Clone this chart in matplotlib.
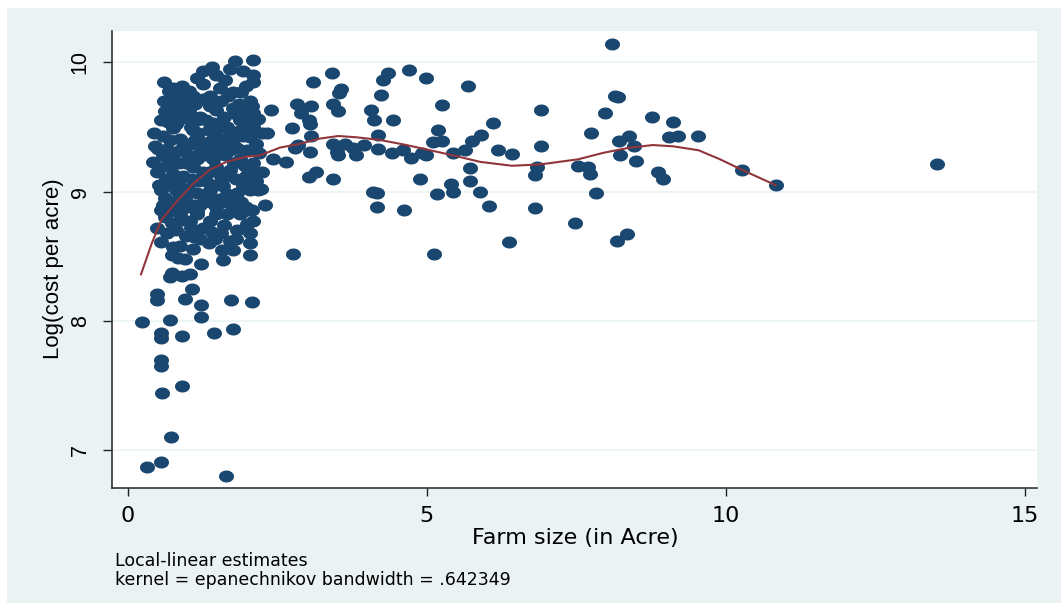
import numpy as np
import matplotlib.pyplot as plt
from matplotlib.path import Path
from matplotlib.patches import Rectangle

# farms above ~2.5 acres (x = farm size, y = log cost per acre)
wide_pts = [
    (3.41, 9.92), (3.10, 9.85), (3.56, 9.79), (3.53, 9.76), (4.35, 9.92), (4.27, 9.86), (4.70, 9.94), (4.99, 9.88),
    (5.69, 9.82), (4.24, 9.75), (2.82, 9.68), (3.06, 9.66), (3.43, 9.68), (3.51, 9.62), (2.90, 9.61), (3.03, 9.55),
    (3.04, 9.52), (4.06, 9.63), (4.11, 9.55), (4.44, 9.55), (5.25, 9.67), (2.75, 9.49), (3.07, 9.43), (4.19, 9.44),
    (5.18, 9.48), (6.11, 9.53), (5.91, 9.44), (5.76, 9.39), (2.85, 9.36), (2.79, 9.34), (3.04, 9.31), (3.43, 9.37),
    (3.63, 9.37), (3.50, 9.31), (3.52, 9.28), (3.82, 9.28), (3.95, 9.36), (3.77, 9.34), (4.18, 9.33), (4.41, 9.30),
    (4.60, 9.32), (4.73, 9.26), (4.91, 9.30), (4.98, 9.28), (5.10, 9.38), (5.26, 9.39), (5.43, 9.30), (5.64, 9.32),
    (6.19, 9.32), (6.42, 9.29), (2.64, 9.23), (3.03, 9.11), (3.14, 9.15), (3.43, 9.10), (4.88, 9.10), (5.72, 9.18),
    (5.72, 9.08), (5.41, 9.06), (5.44, 9.00), (5.89, 9.00), (5.17, 8.98), (4.10, 9.00), (4.17, 8.99), (4.16, 8.88),
    (4.62, 8.86), (6.03, 8.89), (6.81, 8.87), (6.81, 9.13), (6.84, 9.19), (2.76, 8.52), (5.12, 8.52), (6.38, 8.61),
    (8.09, 10.14), (8.14, 9.74), (8.20, 9.73), (6.90, 9.63), (7.97, 9.61), (8.76, 9.58), (9.12, 9.54), (7.75, 9.45),
    (6.90, 9.35), (8.21, 9.39), (8.38, 9.43), (8.46, 9.35), (9.04, 9.42), (9.20, 9.43), (9.53, 9.43), (8.22, 9.28),
    (8.49, 9.24), (7.53, 9.20), (7.70, 9.19), (7.73, 9.14), (8.87, 9.15), (8.94, 9.10), (10.26, 9.17), (10.83, 9.05),
    (7.83, 8.99), (7.48, 8.76), (8.34, 8.67), (8.17, 8.62), (13.53, 9.21),
]

# small farms, low costs
low_pts = [
    (2.04, 8.51), (1.59, 8.47), (1.22, 8.44), (0.73, 8.37), (0.90, 8.35), (1.04, 8.36), (0.70, 8.34), (1.07, 8.25),
    (0.95, 8.17), (0.49, 8.21), (0.49, 8.16), (1.23, 8.12), (1.73, 8.16), (2.07, 8.15), (0.23, 7.99), (0.71, 8.01),
    (1.22, 8.03), (0.56, 7.91), (0.56, 7.87), (0.91, 7.88), (1.44, 7.91), (1.76, 7.94), (0.56, 7.70), (0.56, 7.65),
    (0.91, 7.50), (0.57, 7.44), (0.72, 7.10), (0.32, 6.87), (0.56, 6.91), (1.64, 6.80),
    (0.59, 8.90), (0.55, 8.86), (0.48, 8.72), (0.56, 8.61), (0.73, 8.51), (0.84, 8.49), (0.73, 8.76), (1.04, 8.77),
    (0.98, 8.66), (1.37, 8.77), (1.40, 8.69), (1.57, 8.55), (1.82, 8.70), (1.81, 8.63), (2.04, 8.68), (2.04, 8.60),
    (2.10, 8.77), (2.29, 8.90), (1.20, 8.63), (1.45, 8.63), (0.76, 8.57), (1.09, 8.56), (1.65, 8.83), (1.87, 8.83),
    (1.48, 8.83), (0.87, 8.83), (1.15, 8.83), (1.98, 8.88), (1.37, 8.92),
    (1.05, 8.72), (1.35, 8.60), (1.55, 8.68), (0.95, 8.48), (1.75, 8.55),
]

# the dense block of small farms
cluster_pts = [
    (1.79, 10.01), (2.10, 10.02), (1.26, 9.93), (1.40, 9.96), (1.92, 9.93), (2.10, 9.90), (2.09, 9.85), (0.61, 9.85),
    (0.76, 9.80), (1.26, 9.83), (1.54, 9.80), (1.76, 9.77), (1.90, 9.77), (0.76, 9.71), (0.84, 9.75), (1.09, 9.74),
    (1.37, 9.74), (2.04, 9.70), (2.07, 9.66), (2.40, 9.63), (2.10, 9.61), (0.90, 9.58), (0.67, 9.54), (0.76, 9.49),
    (1.20, 9.58), (1.48, 9.63), (1.76, 9.65), (0.43, 9.45), (0.59, 9.43), (2.10, 9.50), (2.32, 9.45), (0.87, 9.41),
    (1.09, 9.48), (1.43, 9.53), (1.65, 9.50), (1.87, 9.55), (1.93, 9.43), (2.15, 9.37), (0.42, 9.23), (0.54, 9.18),
    (0.65, 9.26), (0.87, 9.32), (1.04, 9.37), (1.20, 9.31), (1.37, 9.35), (1.59, 9.35), (1.76, 9.40), (2.10, 9.22),
    (2.43, 9.25), (1.87, 9.25), (0.76, 9.14), (0.92, 9.12), (1.09, 9.19), (1.26, 9.15), (1.48, 9.19), (1.71, 9.17),
    (1.98, 9.12), (2.15, 9.08), (0.56, 9.01), (0.81, 9.01), (1.15, 8.99), (1.37, 9.01), (1.59, 9.04), (1.82, 8.99),
    (2.04, 9.01), (2.18, 9.01), (0.87, 8.88), (1.15, 8.85), (1.48, 8.88), (1.76, 8.88), (2.07, 8.86),
    (0.72, 9.62), (0.85, 9.66), (0.98, 9.70), (1.12, 9.68), (1.25, 9.72), (1.38, 9.66), (1.55, 9.70), (1.68, 9.74),
    (1.85, 9.68), (1.95, 9.62), (0.70, 9.40), (0.80, 9.52), (0.95, 9.57), (1.05, 9.50), (1.18, 9.45), (1.30, 9.55),
    (1.45, 9.44), (1.60, 9.58), (1.72, 9.47), (1.98, 9.52), (0.66, 9.33), (0.76, 9.28), (0.95, 9.36), (1.13, 9.40),
    (1.27, 9.28), (1.48, 9.30), (1.67, 9.42), (1.82, 9.34), (1.96, 9.20), (2.05, 9.42), (0.64, 9.10), (0.74, 9.05),
    (0.98, 9.22), (1.08, 9.10), (1.30, 9.08), (1.42, 9.25), (1.55, 9.12), (1.62, 9.28), (1.80, 9.10), (1.92, 9.04),
    (0.62, 8.95), (0.72, 8.92), (0.96, 8.95), (1.10, 8.90), (1.28, 8.96), (1.52, 8.94), (1.66, 8.98), (1.90, 8.92),
    (2.12, 9.15), (2.20, 9.30), (0.80, 8.70), (0.92, 8.78), (1.25, 8.72), (1.60, 8.74), (1.70, 8.62), (2.00, 8.75),
    (1.10, 8.65), (0.62, 8.80), (0.65, 8.68), (0.88, 8.58), (0.50, 9.33), (0.52, 9.05), (0.55, 9.55),
    (0.60, 9.70), (0.68, 9.78), (0.90, 9.82), (1.02, 9.78), (1.15, 9.88), (1.48, 9.90), (1.62, 9.86), (1.70, 9.95),
    (1.98, 9.82), (2.00, 9.58), (0.62, 9.62), (0.78, 9.58), (1.02, 9.62), (1.15, 9.55), (1.35, 9.48), (1.55, 9.50),
    (1.80, 9.60), (1.90, 9.48), (2.18, 9.56), (2.25, 9.45), (0.58, 9.28), (0.72, 9.20), (0.85, 9.22), (1.00, 9.28),
    (1.15, 9.25), (1.22, 9.38), (1.40, 9.40), (1.52, 9.38), (1.70, 9.32), (2.00, 9.32), (0.85, 9.05), (1.00, 9.02),
    (1.18, 9.08), (1.35, 9.15), (1.45, 9.05), (1.65, 9.12), (1.78, 9.22), (2.02, 9.10), (2.25, 9.15), (0.48, 9.15),
    (0.70, 8.85), (0.85, 8.95), (1.02, 8.88), (1.20, 8.90), (1.40, 8.95), (1.60, 8.92), (1.78, 8.95), (1.95, 8.85),
    (2.22, 9.02), (0.45, 9.35),
]

# local-linear fit
fit_x = [0.22, 0.40, 0.56, 0.81, 1.09, 1.37, 1.65, 1.98, 2.21, 2.54, 2.88, 3.21, 3.52, 3.82, 4.21,
         4.66, 5.05, 5.44, 5.89, 6.42, 6.89, 7.53, 7.95, 8.39, 8.78, 9.12, 9.54, 9.90, 10.26, 10.83]
fit_y = [8.36, 8.60, 8.78, 8.92, 9.06, 9.17, 9.23, 9.27, 9.28, 9.34, 9.37, 9.41, 9.43, 9.42, 9.40,
         9.36, 9.32, 9.28, 9.23, 9.20, 9.21, 9.25, 9.30, 9.34, 9.36, 9.35, 9.32, 9.25, 9.17, 9.05]

pts = np.array(wide_pts + low_pts + cluster_pts)

W, H = 1061, 603
navy = '#1A476F'
maroon = '#90353B'
bg = '#EAF2F3'

fig = plt.figure(figsize=(W / 100, H / 100), dpi=100)
fig.patch.set_facecolor('white')
fig.patches.append(Rectangle((7 / W, 0), 1, 1 - 8 / H, transform=fig.transFigure,
                             facecolor=bg, edgecolor='none', zorder=-10))

ax = fig.add_axes([111.7 / W, 1 - 488 / H, (1037 - 111.7) / W, (488 - 31) / H])
ax.set_facecolor('white')

# stata markers look like slightly flattened circles
t = np.linspace(0, 2 * np.pi, 60)
ellipse = Path(np.column_stack([np.cos(t), 0.8 * np.sin(t)]))

ax.scatter(pts[:, 0], pts[:, 1], s=117, marker=ellipse, color=navy, linewidths=0, zorder=3)
ax.plot(fit_x, fit_y, color=maroon, lw=1.5, zorder=4)

ax.set_xlim(-0.27, 15.2)
ax.set_ylim(6.708, 10.242)
ax.set_xticks([0, 5, 10, 15])
ax.set_yticks([7, 8, 9, 10])
ax.grid(axis='y', color=bg, lw=1.1)
ax.set_axisbelow(True)

for side in ['top', 'right']:
    ax.spines[side].set_visible(False)
for side in ['left', 'bottom']:
    ax.spines[side].set_linewidth(1.1)
    ax.spines[side].set_color('#222222')

ax.tick_params(axis='x', length=5.8, width=1.0, color='#222222', pad=7, labelsize=16)
ax.tick_params(axis='y', length=6.5, width=1.0, color='#222222', pad=8.5, labelsize=15.5)
for lab in ax.get_yticklabels():
    lab.set_rotation(90)
    lab.set_va('center')
    lab.set_family('Liberation Sans')

fig.text(53.5 / W, 1 - 269 / H, 'Log(cost per acre)', rotation=90, ha='center', va='center',
         fontsize=16, family='Liberation Sans')
fig.text(575 / W, 1 - 538 / H, 'Farm size (in Acre)', ha='center', va='center', fontsize=16)
fig.text(115 / W, 1 - 561 / H, 'Local-linear estimates', va='center', fontsize=12.5)
fig.text(115 / W, 1 - 580 / H, 'kernel = epanechnikov bandwidth = .642349', va='center', fontsize=12.5)

fig.savefig('out.png', dpi=100)
